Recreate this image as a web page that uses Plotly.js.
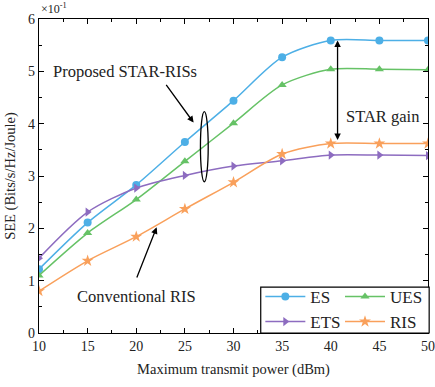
<!DOCTYPE html>
<html>
<head>
<meta charset="utf-8">
<script src="https://cdn.plot.ly/plotly-3.0.1.min.js"></script>
<style>html,body{margin:0;padding:0;background:#fff;}#chart{width:435px;height:387px;}</style>
</head>
<body>
<div id="chart"></div>
<script>
// Transmit power (dBm)
const powerDbm = [10, 15, 20, 25, 30, 35, 40, 45, 50];
// SEE values in units of x10^-1 Bits/s/Hz/Joule
const seeES  = [1.22, 2.11, 2.83, 3.65, 4.44, 5.27, 5.59, 5.59, 5.59];
const seeUES = [1.10, 1.91, 2.55, 3.28, 4.01, 4.74, 5.04, 5.04, 5.03];
const seeETS = [1.43, 2.31, 2.77, 3.01, 3.19, 3.29, 3.40, 3.40, 3.39];
const seeRIS = [0.80, 1.38, 1.84, 2.37, 2.88, 3.42, 3.62, 3.62, 3.62];
const seriesNames = ['ES', 'UES', 'ETS', 'RIS'];
const xTicks = [10, 15, 20, 25, 30, 35, 40, 45, 50];
const yTicks = [0, 1, 2, 3, 4, 5, 6];

const FONT = 'Liberation Serif, Times New Roman, serif';
const colors = {ES: '#4DAFE6', UES: '#66C266', ETS: '#8D6CC0', RIS: '#F9A05B'};
const symbols = {ES: 'circle', UES: 'triangle-up', ETS: 'triangle-right', RIS: 'star'};
const legendOf = {ES: 'legend', ETS: 'legend', UES: 'legend2', RIS: 'legend2'};
const dataOf = {ES: seeES, UES: seeUES, ETS: seeETS, RIS: seeRIS};

const traces = seriesNames.map(n => ({
  x: powerDbm, y: dataOf[n], name: n, type: 'scatter', mode: 'lines+markers',
  legend: legendOf[n],
  line: {color: colors[n], width: 1.5, shape: 'spline', smoothing: 0.8},
  marker: {symbol: symbols[n], color: colors[n], size: n === 'RIS' ? 9 : 8, line: {width: 0}}
}));

const axisCommon = {
  showline: true, linecolor: '#000', linewidth: 1.3, mirror: 'ticks',
  ticks: 'inside', ticklen: 5, tickwidth: 1, tickcolor: '#000',
  showgrid: false, zeroline: false, automargin: false,
  tickfont: {family: FONT, size: 14, color: '#222'}
};

const legendCommon = {
  y: -0.022, yanchor: 'bottom',
  bgcolor: 'rgba(255,255,255,0)', borderwidth: 0,
  font: {family: FONT, size: 17, color: '#222'}, itemwidth: 40, tracegroupgap: 0,
  traceorder: 'normal'
};

const layout = {
  width: 435, height: 387,
  margin: {l: 39, r: 7, t: 19, b: 54},
  paper_bgcolor: '#fff', plot_bgcolor: '#fff',
  font: {family: FONT, color: '#222'},
  showlegend: true,
  xaxis: Object.assign({}, axisCommon, {
    range: [10, 50], tickvals: xTicks,
    minor: {dtick: 2.5, tick0: 10, ticks: 'inside', ticklen: 3, tickcolor: '#000'},
    title: {text: 'Maximum transmit power (dBm)', font: {family: FONT, size: 14.5, color: '#222'}, standoff: 10}
  }),
  yaxis: Object.assign({}, axisCommon, {
    range: [0, 6], tickvals: yTicks,
    minor: {dtick: 0.5, tick0: 0, ticks: 'inside', ticklen: 3, tickcolor: '#000'},
    title: {text: 'SEE (Bits/s/Hz/Joule)', font: {family: FONT, size: 14.5, color: '#222'}, standoff: 8}
  }),
  legend: Object.assign({}, legendCommon, {x: 0.569, xanchor: 'left'}),
  legend2: Object.assign({}, legendCommon, {x: 1.0, xanchor: 'right'}),
  shapes: [
    {type: 'rect', xref: 'paper', yref: 'paper', x0: 0.570, x1: 1.003, y0: 0, y1: 0.146,
     line: {color: '#000', width: 1.2}, fillcolor: '#fff', layer: 'above'},
    {type: 'circle', xref: 'x', yref: 'y', x0: 26.6, x1: 27.4, y0: 2.89, y1: 4.23,
     line: {color: '#000', width: 1.3}}
  ],
  annotations: [
    {xref: 'paper', yref: 'paper', x: 0.0, y: 1.0, xanchor: 'left', yanchor: 'bottom', yshift: 1,
     text: '×10<sup>-1</sup>', showarrow: false, font: {family: FONT, size: 12, color: '#222'}},
    {x: 18.8, y: 5.0, text: 'Proposed STAR-RISs', showarrow: false,
     font: {family: FONT, size: 16.5, color: '#222'}},
    {x: 25.9, y: 4.02, ax: 22.97, ay: 4.77, axref: 'x', ayref: 'y', text: '', showarrow: true,
     arrowhead: 2, arrowsize: 1, arrowwidth: 1.3, arrowcolor: '#000'},
    {x: 20.0, y: 0.69, text: 'Conventional RIS', showarrow: false,
     font: {family: FONT, size: 16.5, color: '#222'}},
    {x: 22.1, y: 2.02, ax: 20.0, ay: 1.03, axref: 'x', ayref: 'y', text: '', showarrow: true,
     arrowhead: 2, arrowsize: 1, arrowwidth: 1.3, arrowcolor: '#000'},
    {x: 40.7, y: 5.59, ax: 40.7, ay: 3.66, axref: 'x', ayref: 'y', text: '', showarrow: true,
     arrowhead: 2, startarrowhead: 2, arrowside: 'end+start', arrowsize: 1, arrowwidth: 1.3, arrowcolor: '#000'},
    {x: 45.3, y: 4.14, text: 'STAR gain', showarrow: false,
     font: {family: FONT, size: 16.5, color: '#222'}}
  ]
};

Plotly.newPlot('chart', traces, layout, {displayModeBar: false, staticPlot: true});
</script>
</body>
</html>
